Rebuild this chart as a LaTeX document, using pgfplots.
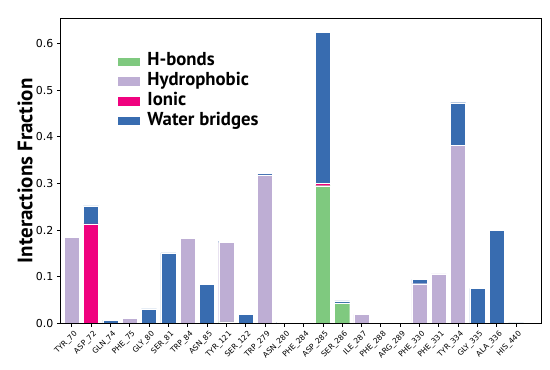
\documentclass[border=0pt]{standalone}
\usepackage{pgfplots}
\pgfplotsset{compat=1.18}
\usepackage{pgfplotstable}
\usepackage{fontspec}
\setmainfont{DejaVu Sans}
\newfontfamily\labfont{PT Sans}
\definecolor{cHB}{HTML}{7FC97F}
\definecolor{cHY}{HTML}{BEAED4}
\definecolor{cIO}{HTML}{F0027F}
\definecolor{cWB}{HTML}{386CB0}
\pgfplotstableread{
x hb hyd ion wb
0 0 0.184 0 0
1 0 0 0.213 0.039
2 0 0 0 0.007
3 0 0.011 0 0
4 0 0 0 0.031
5 0 0 0 0.151
6 0 0.182 0 0
7 0 0 0 0.083
8 0.003 0.170 0 0.003
9 0 0 0 0.019
10 0 0.318 0 0.003
11 0 0 0 0.002
12 0 0 0 0
13 0.295 0 0.005 0.324
14 0.044 0 0 0.004
15 0 0.019 0 0
16 0 0 0 0
17 0 0 0 0
18 0 0.085 0 0.009
19 0 0.106 0 0
20 0 0.382 0 0.091
21 0 0 0 0.075
22 0 0 0 0.200
23 0 0 0 0.001
}\data
\begin{document}
\begin{tikzpicture}
\begin{axis}[
  at={(0,0)}, anchor=south west,
  scale only axis, width=481.4bp, height=305bp,
  ybar stacked, bar width=0.78,
  xmin=-0.59, xmax=24.33, ymin=0, ymax=0.654,
  xtick=data,
  xticklabels={TYR\_70,ASP\_72,GLN\_74,PHE\_75,GLY\_80,SER\_81,TRP\_84,ASN\_85,TYR\_121,SER\_122,TRP\_279,ASN\_280,PHE\_284,ASP\_285,SER\_286,ILE\_287,PHE\_288,ARG\_289,PHE\_330,PHE\_331,TYR\_334,GLY\_335,ALA\_336,HIS\_440},
  xticklabel style={rotate=45, anchor=north east, font=\fontsize{7.6}{8}\selectfont, inner sep=1pt, yshift=-2.5bp},
  ytick={0,0.1,0.2,0.3,0.4,0.5,0.6},
  yticklabel style={font=\fontsize{11}{12}\selectfont, /pgf/number format/fixed, /pgf/number format/fixed zerofill, /pgf/number format/precision=1},
  /pgf/number format/assume math mode=true,
  tick align=outside, xtick pos=bottom, ytick pos=left,
  major tick length=3.5bp,
  tick style={black, line width=0.6pt},
  axis line style={line width=0.8pt},
  ylabel={\labfont\bfseries Interactions Fraction},
  ylabel style={font=\fontsize{21}{22}\selectfont, at={(axis description cs:0,0.5)}, anchor=south, yshift=24bp},
  axis on top,
  every axis plot/.append style={draw=white, line width=0.3pt},
  legend image code/.code={\fill[#1,draw=none] (0bp,-4.3bp) rectangle (22bp,4.3bp);},
  legend style={at={(0.12,0.89)}, anchor=north west, draw=none, fill=none, inner sep=0pt,
    font=\labfont\bfseries\fontsize{18.8}{20}\selectfont, row sep=0bp,
    nodes={inner sep=1.2bp, text height=12.7bp, text depth=4.6bp}},
  legend cell align=left,
]
\addplot[fill=cHB] table[x=x,y=hb]{\data};
\addplot[fill=cHY] table[x=x,y=hyd]{\data};
\addplot[fill=cIO] table[x=x,y=ion]{\data};
\addplot[fill=cWB] table[x=x,y=wb]{\data};
\legend{\kern6bp H-bonds,\kern6bp Hydrophobic,\kern6bp Ionic,\kern6bp Water bridges}
\end{axis}
\pgfresetboundingbox
\path[use as bounding box] (-60.3bp,-46.7bp) rectangle (489.7bp,323.3bp);
\end{tikzpicture}
\end{document}
